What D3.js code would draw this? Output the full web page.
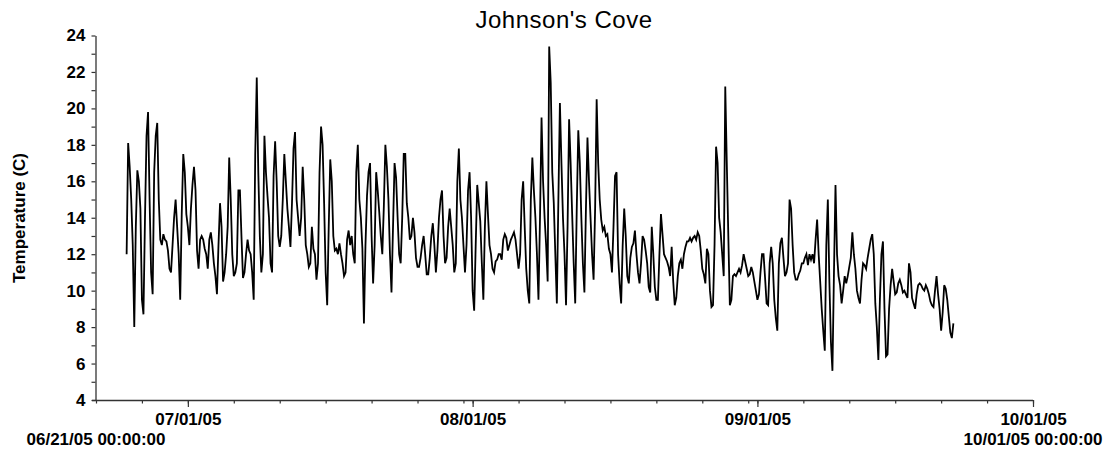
<!DOCTYPE html>
<html>
<head>
<meta charset="utf-8">
<script src="https://cdn.jsdelivr.net/npm/d3@7/dist/d3.min.js"></script>
<style>
  html, body { margin: 0; padding: 0; background: #fff; }
  svg { display: block; }
</style>
</head>
<body>
<svg id="chart" width="1111" height="454"></svg>
<script>
// ---- data ----
const chartTitle = "Johnson's Cove";
const yAxisTitle = "Temperature (C)";
const axisStart = "2005-06-21T00:00:00";
const axisEnd = "2005-10-01T00:00:00";
const seriesStart = "2005-06-24T08:00:00";
const sampleHours = 4;
const yTickValues = [4, 6, 8, 10, 12, 14, 16, 18, 20, 22, 24];
const yMinorStep = 1;
const temps = [
  12.0, 18.1, 16.8, 15.0, 12.5, 8.0, 13.5, 16.6, 16.0, 14.5,
  9.5, 8.7, 14.0, 18.5, 19.8, 15.0, 11.0, 9.8, 16.5, 18.5,
  19.2, 15.0, 12.8, 12.5, 13.1, 12.8, 12.7, 12.2, 11.2, 11.0,
  12.5, 14.0, 15.0, 13.5, 12.0, 9.5, 14.2, 17.5, 16.5, 14.2,
  13.5, 12.5, 14.5, 15.8, 16.8, 15.5, 12.2, 11.2, 12.8, 13.0,
  12.8, 12.3, 12.0, 11.2, 12.8, 13.2, 12.5, 11.5, 10.8, 9.8,
  12.5, 14.8, 13.5, 10.5, 11.0, 12.0, 13.5, 17.3, 15.0, 12.0,
  10.8, 11.0, 11.5, 15.5, 15.5, 13.0, 10.7, 11.0, 12.0, 12.8,
  12.2, 12.0, 11.0, 9.5, 17.5, 21.7, 16.5, 13.0, 11.0, 12.0,
  18.5, 16.5, 15.2, 14.0, 11.5, 11.0, 16.3, 18.2, 16.0, 13.0,
  12.4, 13.0, 15.0, 17.5, 16.0, 14.5, 13.5, 12.4, 14.8, 17.8,
  18.7, 15.0, 14.0, 13.0, 14.0, 16.8, 15.0, 12.5, 12.0, 11.3,
  11.5, 13.5, 12.3, 12.0, 10.6, 11.5, 16.5, 19.0, 18.0, 14.8,
  11.0, 9.2, 13.5, 17.2, 16.0, 13.0, 12.2, 12.3, 12.0, 12.6,
  12.0, 11.5, 10.8, 11.0, 12.8, 13.3, 12.5, 13.0, 12.0, 11.5,
  16.5, 18.0, 15.0, 14.0, 12.3, 8.2, 12.5, 15.2, 16.5, 17.0,
  13.0, 10.4, 12.5, 16.5, 15.5, 14.3, 13.0, 12.0, 14.6, 18.0,
  16.8, 15.0, 12.0, 9.9, 13.5, 17.0, 16.2, 14.0, 12.0, 11.5,
  14.0, 17.5, 17.5, 14.8, 14.0, 12.8, 13.0, 14.0, 13.2, 11.8,
  11.3, 11.3, 11.8, 12.5, 13.0, 12.0, 10.9, 10.9, 11.8, 13.0,
  13.7, 12.5, 11.0, 12.2, 14.0, 15.0, 15.5, 13.0, 11.5, 11.8,
  13.5, 14.5, 13.5, 12.5, 11.0, 11.5, 16.0, 17.8, 15.0, 14.0,
  12.5, 11.0, 12.5, 15.5, 16.5, 14.0, 10.0, 8.9, 12.5, 15.8,
  14.8, 13.8, 11.5, 9.5, 13.5, 16.0, 14.2, 12.5, 12.0, 11.2,
  11.0, 11.6, 11.7, 12.0, 12.0, 11.7, 12.8, 13.1, 12.9, 12.2,
  12.5, 12.8, 13.0, 13.2, 12.8, 12.0, 11.2, 12.0, 15.0, 16.0,
  13.5, 11.2, 10.0, 9.3, 15.0, 17.3, 15.5, 14.0, 12.0, 9.5,
  14.0, 19.5, 16.0, 14.0, 12.5, 10.5, 23.4, 21.4, 16.5, 14.8,
  12.0, 9.3, 15.0, 20.3, 17.0, 14.0, 12.0, 9.2, 13.5, 19.4,
  17.0, 14.2, 11.5, 9.3, 14.5, 18.8, 17.0, 14.0, 11.5, 9.9,
  14.5, 18.4, 16.0, 14.0, 12.0, 10.6, 14.5, 20.5, 17.0, 15.0,
  13.9, 13.3, 13.5, 13.0, 13.1, 12.3, 12.0, 11.0, 13.5, 16.3,
  16.5, 12.0, 10.4, 9.3, 12.5, 14.5, 13.0, 10.8, 10.4, 11.8,
  12.4, 12.6, 13.3, 12.0, 11.0, 10.4, 11.5, 13.0, 12.8, 12.2,
  11.5, 10.2, 9.9, 13.5, 12.0, 10.2, 9.5, 9.5, 12.0, 14.2,
  13.1, 12.0, 11.8, 11.6, 11.3, 10.8, 12.4, 10.5, 9.2, 9.6,
  10.8, 11.5, 11.7, 11.2, 12.0, 12.4, 12.7, 12.7, 12.9, 12.7,
  12.9, 13.0, 12.8, 13.2, 13.0, 12.2, 11.2, 10.9, 10.4, 12.3,
  12.0, 10.0, 9.1, 9.2, 12.5, 17.9, 17.0, 14.0, 13.2, 12.0,
  10.8, 21.2, 17.0, 13.0, 9.2, 9.5, 10.8, 10.9, 10.8, 11.0,
  11.2, 11.0, 11.4, 12.0, 11.6, 11.2, 10.8, 10.9, 11.3, 11.0,
  10.5, 10.0, 9.5, 9.8, 11.0, 12.0, 12.0, 10.7, 9.3, 9.2,
  11.5, 12.4, 11.5, 9.5, 8.5, 7.8, 11.5, 12.6, 12.9, 11.8,
  10.8, 11.0, 11.5, 15.0, 14.5, 12.5, 11.0, 10.6, 10.6, 10.9,
  11.1, 11.5, 11.5, 11.8, 12.0, 11.4, 12.0, 11.7, 12.0, 11.5,
  12.8, 13.9, 12.0, 10.5, 9.0, 7.8, 6.7, 12.5, 15.0, 10.5,
  7.2, 5.6, 11.0, 15.8, 12.0, 10.8, 10.3, 9.3, 10.0, 10.8,
  10.4, 10.8, 11.3, 11.8, 13.2, 12.0, 11.2, 10.0, 9.6, 9.3,
  10.6, 11.5, 11.4, 11.2, 11.8, 12.3, 12.8, 13.1, 12.0, 9.3,
  8.0, 6.2, 9.5, 12.0, 12.7, 9.0, 6.4, 6.5, 9.0, 10.3,
  11.2, 10.5, 9.8, 9.9, 10.4, 10.6, 10.3, 9.9, 10.0, 9.8,
  9.6, 11.5, 11.0, 9.6, 9.3, 9.0, 9.8, 10.3, 10.4, 10.3,
  10.1, 10.0, 10.3, 10.1, 9.8, 9.4, 9.2, 9.1, 10.0, 10.8,
  9.8, 9.0, 7.8, 8.8, 10.3, 10.1, 9.5, 8.6, 7.7, 7.4,
  8.2
];

// ---- chart ----
const FONT = "'Liberation Sans', Arial, Helvetica, sans-serif";
const svg = d3.select("#chart");
svg.append("rect").attr("width", 1111).attr("height", 454).attr("fill", "#fff");

const t0 = new Date(axisStart), t1 = new Date(axisEnd);
const s0 = new Date(seriesStart).getTime();
const series = temps.map((v, i) => ({ t: new Date(s0 + i * sampleHours * 3600000), v }));

const x = d3.scaleTime().domain([t0, t1]).range([96, 1033]);
const y = d3.scaleLinear().domain([4, 24]).range([400, 35.5]);

// title
svg.append("text")
  .attr("x", 564).attr("y", 28)
  .attr("text-anchor", "middle")
  .attr("font-family", FONT).attr("font-size", 24)
  .attr("letter-spacing", "0.5px")
  .attr("fill", "#000")
  .text(chartTitle);

// y axis
const yMinor = d3.range(d3.min(yTickValues), d3.max(yTickValues) + 0.001, yMinorStep);
const yAxis = d3.axisLeft(y)
  .tickValues(yMinor)
  .tickSize(4).tickSizeOuter(0).tickPadding(6)
  .tickFormat(d => yTickValues.includes(d) ? d3.format("d")(d) : "");
const gy = svg.append("g").attr("transform", "translate(95.5,0)").call(yAxis);
gy.select(".domain").attr("stroke", "#333").attr("stroke-width", 1.3);
gy.selectAll(".tick line").attr("stroke", "#333").attr("stroke-width", 1.2);
gy.selectAll("text").attr("font-family", FONT).attr("font-size", 17)
  .attr("font-weight", "bold").attr("fill", "#000");

// y title
svg.append("text")
  .attr("transform", "translate(25,218) rotate(-90)")
  .attr("text-anchor", "middle")
  .attr("font-family", FONT).attr("font-size", 17).attr("font-weight", "bold")
  .attr("fill", "#000")
  .text(yAxisTitle);

// x axis: minor ticks every 5 days, major at months
const endPlus = new Date(t1.getTime() + 1);
const minorTicks = d3.timeDay.every(5).range(t0, endPlus);
const majorTicks = d3.timeMonth.range(t0, endPlus);
const gxMinor = svg.append("g").attr("transform", "translate(0,400)")
  .call(d3.axisBottom(x).tickValues(minorTicks).tickSize(3.5).tickSizeOuter(0).tickFormat(""));
gxMinor.select(".domain").attr("stroke", "#333").attr("stroke-width", 1.3)
  .attr("d", "M" + (x.range()[0] - 4) + ",0.5H" + x.range()[1]);
gxMinor.selectAll(".tick line").attr("stroke", "#333").attr("stroke-width", 1.2);

const fmtMajor = d3.timeFormat("%m/%d/%y");
const gxMajor = svg.append("g").attr("transform", "translate(0,400)")
  .call(d3.axisBottom(x).tickValues(majorTicks).tickSize(7).tickSizeOuter(0).tickPadding(6).tickFormat(fmtMajor));
gxMajor.select(".domain").remove();
gxMajor.selectAll(".tick line").attr("stroke", "#333").attr("stroke-width", 1.2);
gxMajor.selectAll("text").attr("font-family", FONT).attr("font-size", 17)
  .attr("font-weight", "bold").attr("fill", "#000");

// range labels (start / end full datetime)
const fmtFull = d3.timeFormat("%m/%d/%y %H:%M:%S");
svg.append("g").selectAll("text").data([t0, t1]).join("text")
  .attr("x", d => x(d)).attr("y", 445)
  .attr("text-anchor", "middle")
  .attr("font-family", FONT).attr("font-size", 17).attr("font-weight", "bold")
  .attr("fill", "#000")
  .text(d => fmtFull(d));

// data line
const line = d3.line().x(d => x(d.t)).y(d => y(d.v));
svg.append("path").datum(series)
  .attr("d", line)
  .attr("fill", "none")
  .attr("stroke", "#000")
  .attr("stroke-width", 1.8);
</script>
</body>
</html>
